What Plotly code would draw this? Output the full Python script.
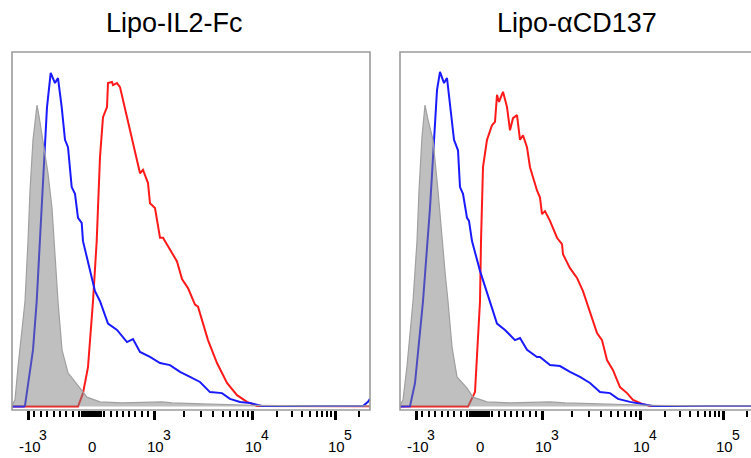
import numpy as np
import plotly.graph_objects as go

# Histograms are binned in display channels (0..358 across the plot frame),
# values are % of mode.
TITLES = ["Lipo-IL2-Fc", "Lipo-\u03b1CD137"]

gray1_ch = [0, 3, 6, 10, 13, 16, 18, 21, 25, 27, 31, 36, 40, 42, 44, 46, 50, 56, 68, 75, 88, 110, 150, 160, 190, 240, 300, 358]
gray1_y = [0.3, 2.0, 11.7, 21.8, 31.2, 49.0, 63.9, 79.0, 89.3, 86.0, 79.0, 69.1, 58.8, 49.0, 40.0, 31.2, 16.8, 10.0, 5.5, 2.8, 1.4, 1.1, 1.4, 1.1, 0.8, 0.4, 0.2, 0.2]

blue1_ch = [0, 12, 13, 16.3, 21, 24.7, 28, 31, 35, 38.7, 43, 46, 49.7, 53, 56, 59.7, 63, 66, 69.7, 71, 78, 83, 88, 96, 105, 115, 121, 128, 138, 148, 158, 168, 178, 188, 198, 210, 218, 228, 238, 250, 300, 351, 356, 358]
blue1_y = [0, 0, 0.3, 7.0, 16.8, 31.2, 49.0, 69.1, 88.7, 98.8, 95.8, 97.3, 88.7, 79.0, 76.8, 65.0, 63.0, 55.9, 54.4, 49.0, 40.2, 34.2, 31.2, 24.6, 22.7, 19.1, 20.0, 16.2, 14.7, 12.9, 12.3, 10.3, 8.8, 7.3, 4.3, 4.0, 2.3, 1.4, 1.1, 0.2, 0.2, 0.2, 1.4, 2.3]

red1_ch = [0, 66, 71, 76, 81, 84.7, 88, 91, 95, 96, 100, 101, 105, 108, 111, 115, 120, 125, 128, 131, 136, 138, 143, 148, 151, 165, 170, 176, 183, 186, 196, 205, 215, 225, 235, 245, 358]
red1_y = [0, 0, 4.0, 11.7, 31.2, 49.0, 73.9, 85.7, 88.7, 95.8, 96.1, 95.2, 95.8, 94.6, 90.8, 85.7, 79.0, 72.9, 69.1, 70.1, 66.2, 60.2, 58.8, 50.0, 50.0, 43.0, 37.8, 35.1, 30.2, 29.6, 19.7, 12.9, 7.0, 3.4, 1.4, 0.2, 0.1]

gray2_ch = [0, 3, 7, 10, 13, 17, 19, 22, 25, 28, 33, 38, 42, 45, 48, 52, 57, 67, 73, 87, 110, 150, 165, 200, 250, 300, 351]
gray2_y = [0.3, 2.0, 12.0, 21.0, 31.2, 49.0, 64.0, 80.0, 89.3, 85.0, 79.0, 64.0, 49.0, 40.0, 31.2, 17.7, 8.8, 5.5, 2.8, 1.4, 1.1, 1.4, 1.1, 0.8, 0.4, 0.2, 0.2]

blue2_ch = [0, 10, 15, 20, 23, 30, 33, 37, 40, 44, 47, 50, 54, 58, 60, 63, 67, 69, 72, 80, 90, 97, 105, 115, 120, 127, 137, 140, 150, 160, 170, 180, 190, 200, 210, 218, 230, 243, 253, 351]
blue2_y = [0, 0.1, 7.0, 21.8, 31.2, 58.8, 73.9, 93.7, 99.1, 95.8, 97.3, 88.7, 79.0, 75.9, 65.0, 63.0, 55.9, 55.0, 49.0, 40.2, 31.2, 24.6, 22.7, 19.7, 20.3, 16.8, 14.7, 14.7, 12.3, 12.0, 10.3, 8.8, 7.0, 4.3, 4.0, 2.3, 1.4, 0.8, 0.2, 0.2]

red2_ch = [0, 68, 75, 78, 80, 81, 83, 87, 92, 95, 97, 99, 103, 107, 110, 113, 117, 120, 123, 127, 130, 137, 140, 142, 145, 150, 157, 162, 163, 170, 177, 183, 190, 197, 202, 207, 213, 220, 227, 233, 242, 250, 351]
red2_y = [0, 0, 4.3, 21.8, 31.2, 49.0, 70.9, 79.0, 83.3, 84.3, 92.3, 90.2, 93.2, 88.7, 81.8, 85.4, 86.3, 79.0, 80.3, 76.8, 70.9, 64.0, 61.9, 57.0, 57.9, 55.0, 50.0, 48.1, 45.1, 41.0, 38.1, 34.2, 28.2, 21.8, 19.7, 13.8, 10.8, 5.8, 4.0, 2.0, 0.8, 0.2, 0.2]

major_vals = [-1000, 1000, 1e4, 1e5]
label_vals = [-1000, 0, 1000, 1e4, 1e5]
label_base = ["-10", "0", "10", "10", "10"]
label_exp = ["3", "", "3", "4", "5"]
minor_vals = (list(range(-900, -150, 100)) + list(range(-150, 151, 10)) + list(range(200, 1000, 100))
              + [k * 1e3 for k in range(2, 10)] + [k * 1e4 for k in range(2, 10)] + [2e5])


def to_channel(v):
    # biexponential display: linear around zero, logarithmic above 10^3
    v = np.asarray(v, dtype=float)
    lin = np.interp(v, [-1000, 0, 1000], [16, 80, 142])
    lg = np.interp(np.log10(np.maximum(v, 1000)), [3, 4, 5, np.log10(2e5)], [142, 240, 323, 347])
    return np.where(v <= 1000, lin, lg)


W, H = 751, 458
FONT = "Liberation Sans, Arial, sans-serif"
panels = [
    dict(gray=(gray1_ch, gray1_y), blue=(blue1_ch, blue1_y), red=(red1_ch, red1_y),
         dom=[12 / W, 370 / W], xr=[0, 358]),
    dict(gray=(gray2_ch, gray2_y), blue=(blue2_ch, blue2_y), red=(red2_ch, red2_y),
         dom=[400 / W, 1.0], xr=[0, 351]),
]
ydom = [(H - 410) / H, (H - 52) / H]

fig = go.Figure()
annotations = []
shapes = []
for i, p in enumerate(panels):
    xa = "x" if i == 0 else "x2"
    ya = "y" if i == 0 else "y2"
    fig.add_trace(go.Scatter(x=p["red"][0], y=p["red"][1], mode="lines",
                             line=dict(color="#ff1a1a", width=2), xaxis=xa, yaxis=ya, showlegend=False))
    fig.add_trace(go.Scatter(x=p["blue"][0], y=p["blue"][1], mode="lines",
                             line=dict(color="#1a1aff", width=2), xaxis=xa, yaxis=ya, showlegend=False))
    fig.add_trace(go.Scatter(x=p["gray"][0], y=p["gray"][1], mode="lines", fill="tozeroy",
                             fillcolor="rgba(128,128,128,0.5)", line=dict(color="rgb(160,160,160)", width=1.2),
                             xaxis=xa, yaxis=ya, showlegend=False))

    axis = dict(domain=p["dom"], range=p["xr"], showgrid=False, zeroline=False, showline=False,
                tickmode="array", tickvals=list(to_channel(major_vals)), ticks="outside",
                ticklen=9, tickwidth=2.5, tickcolor="black", showticklabels=False,
                minor=dict(tickmode="array", tickvals=list(to_channel(minor_vals)), ticks="outside",
                           ticklen=6, tickwidth=1.5, tickcolor="black"))
    yaxis = dict(domain=ydom, range=[-1, 105], showgrid=False, zeroline=False, showline=False,
                 showticklabels=False, ticks="")
    if i == 0:
        axis["anchor"] = "y"
        fig.update_layout(xaxis=axis, yaxis=dict(yaxis, anchor="x"))
    else:
        axis["anchor"] = "y2"
        fig.update_layout(xaxis2=axis, yaxis2=dict(yaxis, anchor="x2"))

    shapes.append(dict(type="rect", xref=f"{xa} domain", yref=f"{ya} domain", x0=0, x1=1 if i == 0 else 1.02,
                       y0=0, y1=1, line=dict(color="rgb(155,155,155)", width=1.6), layer="above"))

    # tick labels: base centred on the tick, exponent set above and to the right
    for v, b, e in zip(label_vals, label_base, label_exp):
        xc = float(to_channel(v))
        annotations.append(dict(x=xc, y=(H - 446) / H, xref=xa, yref="paper", text=b, showarrow=False,
                                xanchor="center", yanchor="middle", xshift=2 if v < 0 else (0 if v == 0 else 1.5),
                                font=dict(family=FONT, size=15, color="black")))
        if e:
            annotations.append(dict(x=xc, y=(H - 435) / H, xref=xa, yref="paper", text=e, showarrow=False,
                                    xanchor="left", yanchor="middle", xshift=9 if v < 0 else 6.5,
                                    font=dict(family=FONT, size=14, color="black")))

    annotations.append(dict(x=(174 if i == 0 else 577) / W, y=(H - 23) / H, xref="paper", yref="paper",
                            text=TITLES[i], showarrow=False, xanchor="center", yanchor="middle",
                            font=dict(family=FONT, size=27, color="black")))

fig.update_layout(width=W, height=H, margin=dict(l=0, r=0, t=0, b=0),
                  paper_bgcolor="white", plot_bgcolor="white",
                  annotations=annotations, shapes=shapes, font=dict(family=FONT))
fig.write_html("out.html", config={"displayModeBar": False},
               post_script="document.body.style.margin='0';")
